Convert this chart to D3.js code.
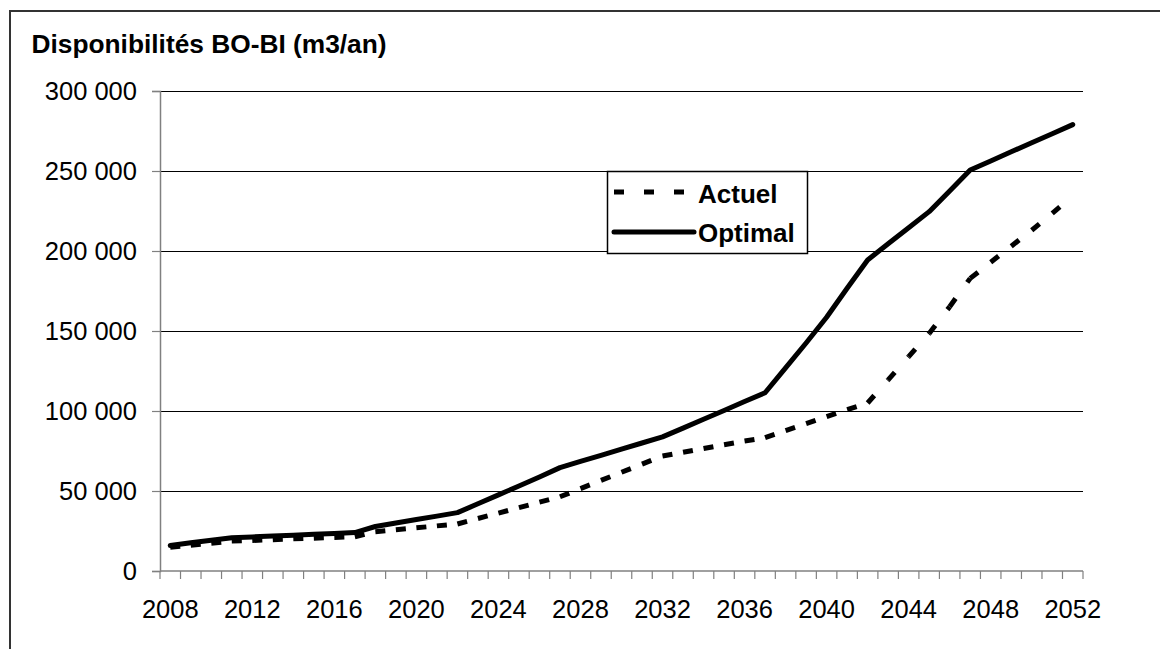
<!DOCTYPE html>
<html><head><meta charset="utf-8">
<script src="https://cdn.jsdelivr.net/npm/d3@7"></script>
<style>html,body{margin:0;padding:0;background:#fff;} svg{display:block;font-family:"Liberation Sans",Arial,sans-serif;}</style>
</head><body>
<svg id="chart" width="1160" height="649"></svg>
<script>
const years = d3.range(2008, 2053);
const actuel = [14800,16100,17400,18700,19100,19600,20100,20500,21000,21400,
  24600,25800,27000,28200,29400,32800,36200,39600,43000,46400,
  51500,56600,61700,66800,71900,74200,76600,78900,81200,83300,
  87700,92100,96500,100900,105000,119500,134000,148500,165200,182900,
  193000,203000,213000,223500,234400];
const optimal = [16000,17600,19200,20800,21300,21800,22300,22900,23400,24000,
  27800,30000,32200,34300,36500,42000,47600,53100,58800,64600,
  68500,72300,76200,80000,83800,89300,94800,100300,105900,111400,
  127000,142500,158600,176700,194400,204500,214500,224600,237500,250600,
  256300,262000,267700,273300,279000];
const yTicks = [0,50000,100000,150000,200000,250000,300000];
const xLabels = years.filter(y => (y - 2008) % 4 === 0);
const seriesNames = ["Actuel", "Optimal"];
const title = "Disponibilités BO-BI (m3/an)";

(function () {
const svg = d3.select("#chart");
const FS = 25.5;
const pLeft = 160, pRight = 1083, pTop = 91, pBottom = 571;

// outer chart border
svg.append("rect").attr("x", 10).attr("y", 11).attr("width", 1300).attr("height", 800)
  .attr("fill", "#fff").attr("stroke", "#333").attr("stroke-width", 2);

svg.append("text").attr("x", 31.5).attr("y", 53).attr("font-size", 26.3).attr("font-weight", "bold")
  .attr("fill", "#000").text(title);

const x = d3.scaleBand().domain(years).range([pLeft, pRight]).paddingInner(0).paddingOuter(0);
const y = d3.scaleLinear().domain([0, 300000]).range([pBottom, pTop]);
const cx = d => x(d) + x.bandwidth() / 2;

const loc = d3.formatLocale({decimal: ",", thousands: " ", grouping: [3], currency: ["", "€"]});
const fmt = loc.format(",d");

// gridlines
svg.append("g").selectAll("line").data(yTicks.filter(v => v > 0)).join("line")
  .attr("x1", pLeft).attr("x2", pRight).attr("y1", d => y(d)).attr("y2", d => y(d))
  .attr("stroke", "#000").attr("stroke-width", 1).attr("shape-rendering", "crispEdges");

// y axis
const gy = svg.append("g").attr("transform", `translate(${pLeft},0)`)
  .call(d3.axisLeft(y).tickValues(yTicks).tickSize(8).tickPadding(15).tickFormat(fmt));
gy.select(".domain").attr("stroke", "#808080").attr("stroke-width", 1.5);
gy.selectAll(".tick line").attr("stroke", "#808080").attr("stroke-width", 1.2);
gy.selectAll("text").attr("font-size", FS).attr("font-family", "Liberation Sans, Arial, sans-serif")
  .attr("fill", "#000").attr("dy", "0.35em");

// x axis labels
const gx = svg.append("g").attr("transform", `translate(0,${pBottom})`)
  .call(d3.axisBottom(x).tickValues(xLabels).tickSize(0).tickPadding(0));
gx.select(".domain").remove();
gx.selectAll("text").attr("font-size", FS).attr("font-family", "Liberation Sans, Arial, sans-serif")
  .attr("fill", "#000").attr("y", 47).attr("dy", null);
// x axis line and boundary ticks
svg.append("line").attr("x1", pLeft).attr("x2", pRight).attr("y1", pBottom).attr("y2", pBottom)
  .attr("stroke", "#808080").attr("stroke-width", 1.5);
svg.append("g").selectAll("line").data(years.map(d => x(d)).concat([x(years[years.length-1]) + x.bandwidth()]))
  .join("line").attr("x1", d => d).attr("x2", d => d).attr("y1", pBottom).attr("y2", pBottom + 8)
  .attr("stroke", "#808080").attr("stroke-width", 1.2);

const line = d3.line().x(d => cx(d[0])).y(d => y(d[1]));

// Optimal solid
svg.append("path").datum(years.map((yr, i) => [yr, optimal[i]])).attr("d", line)
  .attr("fill", "none").attr("stroke", "#000").attr("stroke-width", 5)
  .attr("stroke-linejoin", "round").attr("stroke-linecap", "round");

// Actuel dashed, dash pattern restarting at each point
const segs = d3.pairs(years.map((yr, i) => [yr, actuel[i]]));
svg.append("g").selectAll("path").data(segs).join("path").attr("d", line)
  .attr("fill", "none").attr("stroke", "#000").attr("stroke-width", 5)
  .attr("stroke-dasharray", "10,20").attr("stroke-linecap", "butt");

// legend
const lg = svg.append("g");
lg.append("rect").attr("x", 607.5).attr("y", 171.5).attr("width", 200).attr("height", 82)
  .attr("fill", "#fff").attr("stroke", "#000").attr("stroke-width", 1.5);
const ly = [192, 232];
lg.append("line").attr("x1", 614).attr("x2", 694).attr("y1", ly[0]).attr("y2", ly[0])
  .attr("stroke", "#000").attr("stroke-width", 5).attr("stroke-dasharray", "10,20");
lg.append("line").attr("x1", 614).attr("x2", 694).attr("y1", ly[1]).attr("y2", ly[1])
  .attr("stroke", "#000").attr("stroke-width", 5).attr("stroke-linecap", "round");
lg.selectAll("text").data(seriesNames).join("text")
  .attr("x", 698).attr("y", (d, i) => [202.7, 241.7][i])
  .attr("font-size", 26).attr("font-weight", "bold").attr("fill", "#000").text(d => d);
})();
</script>
</body></html>
